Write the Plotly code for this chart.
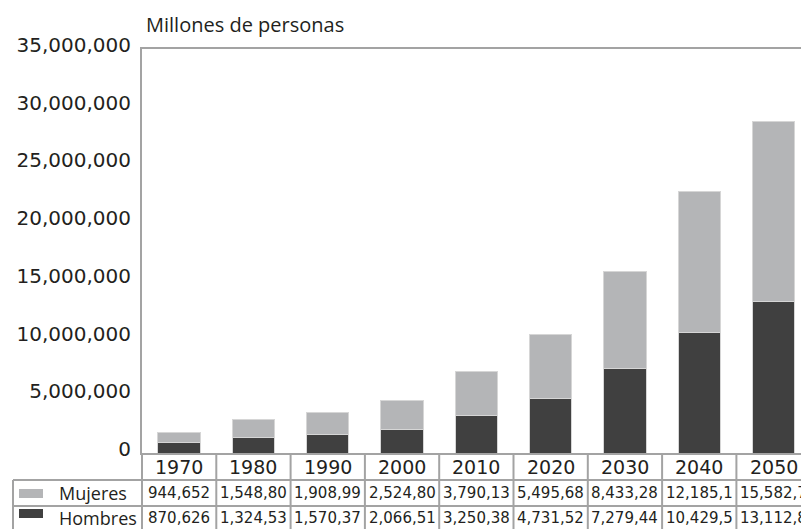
import plotly.graph_objects as go

years = ["1970", "1980", "1990", "2000", "2010", "2020", "2030", "2040", "2050"]
mujeres = [944652, 1548800, 1908990, 2524800, 3790130, 5495680, 8433280, 12185100, 15582700]
hombres = [870626, 1324530, 1570370, 2066510, 3250380, 4731520, 7279440, 10429500, 13112800]
mujeres_labels = ["944,652", "1,548,80", "1,908,99", "2,524,80", "3,790,13", "5,495,68", "8,433,28", "12,185,1", "15,582,7"]
hombres_labels = ["870,626", "1,324,53", "1,570,37", "2,066,51", "3,250,38", "4,731,52", "7,279,44", "10,429,5", "13,112,8"]
y_ticks = [0, 5000000, 10000000, 15000000, 20000000, 25000000, 30000000, 35000000]

# page body has an 8px margin; work in viewport pixels and convert
OFF = 8
W, H = 809 - OFF, 529 - OFF
L, T, B = 142 - OFF, 49 - OFF, 453 - OFF
PW = W - L
PH = B - T
COLW = 74.3
FONT = "Open Sans"
NUMFONT = "DejaVu Sans"
DARK = "#404040"
LIGHT = "#b4b5b7"
LINE = "#a3a3a3"
TXT = "#231f20"


def px(x):
    return (x - OFF - L) / PW


def py(y):
    return (B - (y - OFF)) / PH


xs = list(range(len(years)))

fig = go.Figure()
fig.add_trace(go.Bar(x=xs, y=hombres, name="Hombres",
                     marker=dict(color=DARK, line=dict(color="#d6d6d6", width=1))))
fig.add_trace(go.Bar(x=xs, y=mujeres, name="Mujeres",
                     marker=dict(color=LIGHT, line=dict(color="#d6d6d6", width=1))))

shapes = []
annotations = []

# table horizontal lines
for yy in [480, 506]:
    shapes.append(dict(type="line", xref="paper", yref="paper", x0=px(13), x1=px(820), y0=py(yy), y1=py(yy),
                       line=dict(color=LINE, width=2)))
# left border of legend column
shapes.append(dict(type="line", xref="paper", yref="paper", x0=px(13), x1=px(13), y0=py(480), y1=py(540),
                   line=dict(color=LINE, width=2)))
# left border at axis
shapes.append(dict(type="line", xref="paper", yref="paper", x0=0, x1=0, y0=0, y1=py(540),
                   line=dict(color=LINE, width=2)))
# column separators
for i in range(1, len(years)):
    shapes.append(dict(type="line", xref="x", yref="paper", x0=i - 0.5, x1=i - 0.5, y0=0, y1=py(540),
                       line=dict(color=LINE, width=2)))

# swatches
shapes.append(dict(type="rect", xref="paper", yref="paper", x0=px(19), x1=px(43), y0=py(498), y1=py(489),
                   fillcolor=LIGHT, line=dict(width=0)))
shapes.append(dict(type="rect", xref="paper", yref="paper", x0=px(19), x1=px(43), y0=py(518), y1=py(509),
                   fillcolor=DARK, line=dict(width=0)))

annotations.append(dict(text="Mujeres", xref="paper", yref="paper", x=px(57), y=py(493), xanchor="left",
                        yanchor="middle", showarrow=False, font=dict(family=FONT, size=18, color=TXT)))
annotations.append(dict(text="Hombres", xref="paper", yref="paper", x=px(57), y=py(518), xanchor="left",
                        yanchor="middle", showarrow=False, font=dict(family=FONT, size=18, color=TXT)))

for i, yr in enumerate(years):
    annotations.append(dict(text=yr, xref="x", yref="paper", x=i, y=py(467), xanchor="center", yanchor="middle",
                            showarrow=False, font=dict(family=NUMFONT, size=19, color=TXT)))
    annotations.append(dict(text=mujeres_labels[i], xref="x", yref="paper", x=i, y=py(493), xanchor="center",
                            yanchor="middle", showarrow=False, font=dict(family=NUMFONT, size=15, color=TXT)))
    annotations.append(dict(text=hombres_labels[i], xref="x", yref="paper", x=i, y=py(518), xanchor="center",
                            yanchor="middle", showarrow=False, font=dict(family=NUMFONT, size=15, color=TXT)))

annotations.append(dict(text="Millones de personas", xref="paper", yref="paper", x=px(144), y=py(25),
                        xanchor="left", yanchor="middle", showarrow=False,
                        font=dict(family=FONT, size=20, color=TXT)))

fig.update_layout(
    width=W, height=H,
    margin=dict(l=L, r=0, t=T, b=H - B, pad=0, autoexpand=False),
    barmode="stack",
    bargap=0.43,
    showlegend=False,
    plot_bgcolor="white",
    paper_bgcolor="white",
    shapes=shapes,
    annotations=annotations,
    xaxis=dict(range=[-0.5, -0.5 + PW / COLW], showticklabels=False, ticks="", showgrid=False, zeroline=False,
               showline=True, mirror=True, linecolor=LINE, linewidth=2, fixedrange=True),
    yaxis=dict(range=[0, 35000000], tickvals=y_ticks, tickformat=",", showgrid=False, zeroline=False,
               showline=True, linecolor=LINE, linewidth=2, ticks="", ticklabelstandoff=5,
               ticklabelshift=-4, tickfont=dict(family=NUMFONT, size=20, color=TXT)),
)

fig.write_html("out.html")
